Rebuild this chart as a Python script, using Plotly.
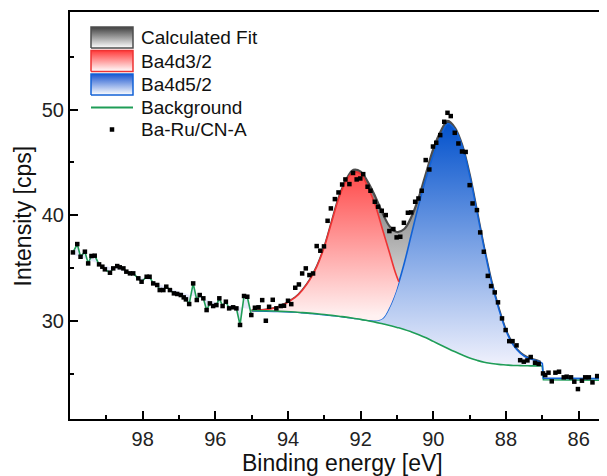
import plotly.graph_objects as go

FONT = "Arial, 'Liberation Sans', sans-serif"

# ---------------- measured data (Ba-Ru/CN-A) ----------------
data_x = [99.92, 99.80, 99.71, 99.59, 99.50, 99.41, 99.32, 99.20, 99.11, 99.04,
          98.90, 98.81, 98.70, 98.63, 98.53, 98.45, 98.35, 98.26, 98.12, 98.03,
          97.89, 97.81, 97.71, 97.60, 97.53, 97.43, 97.35, 97.25, 97.14, 97.05,
          96.95, 96.87, 96.81, 96.72, 96.61, 96.51, 96.43, 96.33, 96.24, 96.15,
          96.06, 95.97, 95.89, 95.80, 95.71, 95.62, 95.51, 95.42, 95.32, 95.21,
          95.12, 95.01, 94.91, 94.81, 94.71, 94.61, 94.52, 94.42, 94.32, 94.20,
          94.11, 94.00, 93.91, 93.80, 93.70, 93.61, 93.51, 93.41, 93.31, 93.21,
          93.11, 93.01, 92.91, 92.82, 92.71, 92.61, 92.51, 92.42, 92.31, 92.21,
          92.11, 92.01, 91.93, 91.81, 91.73, 91.61, 91.52, 91.42, 91.31, 91.21,
          91.10, 91.01, 90.91, 90.81, 90.70, 90.61, 90.50, 90.41, 90.32, 90.21,
          90.11, 90.01, 89.92, 89.81, 89.70, 89.61, 89.52, 89.41, 89.31, 89.21,
          89.11, 89.00, 88.92, 88.80, 88.71, 88.61, 88.50, 88.41, 88.31, 88.22,
          88.11, 88.01, 87.91, 87.82, 87.71, 87.61, 87.51, 87.41, 87.32, 87.20,
          87.10, 86.98, 86.92, 86.83, 86.74, 86.64, 86.54, 86.41, 86.33, 86.21,
          86.12, 86.02, 85.91, 85.82, 85.72, 85.62, 85.49, 85.36, 85.28]
data_y = [36.49, 37.28, 36.08, 36.56, 35.45, 36.15, 36.18, 35.36, 35.14, 34.89,
          34.57, 34.98, 35.20, 35.08, 34.98, 34.67, 34.51, 34.51, 34.04, 33.72,
          34.19, 34.19, 33.56, 33.41, 32.93, 32.93, 33.25, 32.93, 32.62, 32.56,
          32.46, 32.24, 32.05, 31.61, 33.56, 31.99, 32.46, 32.15, 31.04, 31.67,
          31.42, 31.51, 32.15, 31.42, 31.83, 31.20, 31.30, 31.20, 29.63, 32.37,
          32.30, 30.57, 31.26, 31.30, 31.98, 30.03, 31.35, 32.01, 31.20, 31.42,
          31.45, 31.92, 31.60, 33.15, 33.46, 34.50, 34.98, 34.35, 34.50, 37.09,
          36.65, 37.06, 39.48, 40.65, 41.53, 42.16, 42.91, 43.39, 42.95, 44.00,
          43.39, 43.48, 43.89, 42.70, 42.32, 41.28, 40.81, 40.43, 40.02, 38.51,
          38.70, 37.91, 37.97, 39.29, 40.24, 40.27, 41.28, 41.59, 42.32, 45.22,
          44.33, 46.50, 46.86, 47.58, 48.84, 49.69, 49.38, 47.80, 46.79, 46.03,
          45.99, 42.85, 41.12, 40.49, 38.38, 36.55, 34.27, 33.31, 32.71, 31.77,
          30.25, 29.15, 28.10, 28.10, 27.70, 26.30, 26.16, 26.28, 26.60, 26.06,
          25.95, 25.05, 24.89, 25.12, 24.30, 25.12, 25.21, 24.68, 24.74, 24.68,
          24.27, 23.57, 24.36, 24.68, 24.68, 24.20, 24.80, 24.42, 24.99]

# ---------------- fitted curves ----------------
fit_x = [95.0, 94.6, 94.2, 93.8, 93.6, 93.4, 93.2, 93.0, 92.8, 92.6, 92.4, 92.2,
         92.0, 91.8, 91.6, 91.4, 91.2, 91.0, 90.8, 90.6, 90.4, 90.2, 90.0, 89.8,
         89.6, 89.4, 89.2, 89.0, 88.8, 88.6, 88.4, 88.2, 88.0, 87.8, 87.6, 87.4,
         87.2, 87.05]
background_y = [31.00, 30.97, 30.92, 30.85, 30.80, 30.75, 30.69, 30.62, 30.54, 30.45,
                30.37, 30.26, 30.16, 30.03, 29.90, 29.74, 29.58, 29.40, 29.21, 28.97,
                28.71, 28.42, 28.08, 27.74, 27.41, 27.09, 26.79, 26.51, 26.29, 26.10,
                25.99, 25.90, 25.85, 25.80, 25.79, 25.77, 25.76, 25.75]
envelope_y = [31.01, 31.09, 31.43, 32.23, 32.94, 33.89, 35.20, 37.00, 39.35, 41.71,
              43.36, 44.30, 44.13, 43.14, 41.79, 40.22, 38.94, 38.42, 38.70, 39.88,
              41.70, 44.00, 46.28, 47.91, 48.93, 48.25, 46.59, 43.87, 40.44, 36.92,
              33.78, 31.22, 29.15, 27.78, 27.00, 26.56, 26.34, 26.15]
ba4d52_y = [30.97, 30.94, 30.90, 30.85, 30.79, 30.73, 30.67, 30.60, 30.53, 30.46,
            30.37, 30.28, 30.18, 30.10, 30.05, 30.25, 31.36, 33.13, 35.47, 38.25,
            41.01, 43.53, 45.72, 47.45, 48.67, 48.08, 46.47, 43.77, 40.37, 36.87,
            33.72, 31.17, 29.10, 27.73, 26.95, 26.51, 26.29, 26.10]

red_x = [95.0, 94.6, 94.2, 93.8, 93.6, 93.4, 93.2, 93.0, 92.8, 92.6, 92.4, 92.2,
         92.0, 91.8, 91.6, 91.4, 91.2, 91.05, 90.95]
ba4d32_y = [31.01, 31.09, 31.43, 32.23, 32.94, 33.89, 35.20, 37.00, 39.35, 41.64,
            43.26, 44.07, 43.92, 42.65, 40.98, 38.68, 36.38, 34.65, 33.72]
red_base_y = [30.97, 30.94, 30.90, 30.85, 30.79, 30.73, 30.67, 30.60, 30.53, 30.46,
              30.37, 30.28, 30.18, 30.10, 30.05, 30.25, 31.36, 32.60, 33.72]

# tails right of the 87 eV step
bg_tail_x = [87.05, 87.00, 86.97, 85.31, 85.27, 85.20]
bg_tail_y = [25.75, 25.75, 24.45, 24.40, 23.00, 23.00]
blue_tail_x = [87.05, 87.00, 86.97, 85.29]
blue_tail_y = [26.10, 26.00, 24.60, 24.55]

# faint band under the raw data on the high-energy side
band_x = [99.92, 99.0, 98.0, 97.0, 96.0, 95.01]
band_y = [36.30, 35.20, 34.10, 32.80, 31.80, 31.10]

x_ticks = [98, 96, 94, 92, 90, 88, 86]
y_ticks = [30, 40, 50]
x_range = [100.0, 85.22]
y_range = [20.74, 59.22]

GREEN = "#1f9d57"
BLUE = "#1262d6"
RED = "#ee3333"
GRAY = "#4d4d4d"

fig = go.Figure()

left = [i for i, v in enumerate(data_x) if v >= 95.0]
left_x = [data_x[i] for i in left]
left_y = [data_y[i] for i in left]

# band base (invisible) + raw-data green line with faint fill
fig.add_trace(go.Scatter(x=band_x, y=band_y, mode="lines", line=dict(width=0, shape="spline"),
                         hoverinfo="skip", showlegend=False))
fig.add_trace(go.Scatter(x=left_x, y=left_y, mode="lines", fill="tonexty",
                         fillcolor="rgba(205,212,246,0.5)", line=dict(color=GREEN, width=1.6),
                         hoverinfo="skip", showlegend=False))

# Calculated fit (envelope) filled to background
fig.add_trace(go.Scatter(x=fit_x, y=background_y, mode="lines", line=dict(width=0, shape="spline"),
                         hoverinfo="skip", showlegend=False))
fig.add_trace(go.Scatter(x=fit_x, y=envelope_y, mode="lines", name="Calculated Fit", fill="tonexty",
                         fillgradient=dict(type="vertical", start=29.5, stop=49.5,
                                           colorscale=[[0, "#ffffff"], [1, "#3a3a3a"]]),
                         line=dict(color=GRAY, width=2.2, shape="spline"), showlegend=False))

# Ba4d5/2 filled to background
fig.add_trace(go.Scatter(x=fit_x, y=background_y, mode="lines", line=dict(width=0, shape="spline"),
                         hoverinfo="skip", showlegend=False))
fig.add_trace(go.Scatter(x=fit_x, y=ba4d52_y, mode="lines", name="Ba4d5/2", fill="tonexty",
                         fillgradient=dict(type="vertical", start=25.5, stop=49.0,
                                           colorscale=[[0, "#f3f3fd"], [1, "#0050cc"]]),
                         line=dict(color=BLUE, width=1.6, shape="spline"), showlegend=False))

# Ba4d3/2 filled to Ba4d5/2 curve
fig.add_trace(go.Scatter(x=red_x, y=red_base_y, mode="lines", line=dict(width=0, shape="spline"),
                         hoverinfo="skip", showlegend=False))
fig.add_trace(go.Scatter(x=red_x, y=ba4d32_y, mode="lines", name="Ba4d3/2", fill="tonexty",
                         fillgradient=dict(type="vertical", start=30.5, stop=44.5,
                                           colorscale=[[0, "#fff1f1"], [1, "#ff4444"]]),
                         line=dict(color=RED, width=1.6, shape="spline"), showlegend=False))

# Background lines
fig.add_trace(go.Scatter(x=fit_x, y=background_y, mode="lines", name="Background",
                         line=dict(color=GREEN, width=1.6, shape="spline"), showlegend=False))
fig.add_trace(go.Scatter(x=bg_tail_x, y=bg_tail_y, mode="lines",
                         line=dict(color=GREEN, width=1.6), showlegend=False, hoverinfo="skip"))
fig.add_trace(go.Scatter(x=blue_tail_x, y=blue_tail_y, mode="lines",
                         line=dict(color=BLUE, width=1.6), showlegend=False, hoverinfo="skip"))

# data points
fig.add_trace(go.Scatter(x=data_x, y=data_y, mode="markers", name="Ba-Ru/CN-A",
                         marker=dict(symbol="square", size=4.5, color="black"), showlegend=False))

# ---------------- hand-drawn legend on an overlay pixel axis ----------------
legend_rows = ["Calculated Fit", "Ba4d3/2", "Ba4d5/2", "Background", "Ba-Ru/CN-A"]
legend_y = [381.5, 358.0, 334.5, 311.5, 289.5]
box_styles = [
    (GRAY, [[0, "#ffffff"], [1, "#404040"]]),
    (RED, [[0, "#ffffff"], [1, "#ff3a3a"]]),
    (BLUE, [[0, "#ffffff"], [1, "#1a55d0"]]),
]
for (edge, cs), yc in zip(box_styles, legend_y[:3]):
    y0, y1 = yc - 10.5, yc + 10.5
    fig.add_trace(go.Scatter(x=[21, 63, 63, 21, 21], y=[y0, y0, y1, y1, y0], mode="lines",
                             fill="toself", xaxis="x2", yaxis="y2",
                             fillgradient=dict(type="vertical", start=y0, stop=y1, colorscale=cs),
                             line=dict(color=edge, width=1.5), hoverinfo="skip", showlegend=False))
fig.add_trace(go.Scatter(x=[21, 63], y=[legend_y[3], legend_y[3]], mode="lines", xaxis="x2", yaxis="y2",
                         line=dict(color=GREEN, width=1.8), hoverinfo="skip", showlegend=False))
fig.add_trace(go.Scatter(x=[42], y=[legend_y[4]], mode="markers", xaxis="x2", yaxis="y2",
                         marker=dict(symbol="square", size=4.5, color="black"), hoverinfo="skip",
                         showlegend=False))
for label, yc in zip(legend_rows, legend_y):
    fig.add_annotation(x=69, y=yc, xref="x2", yref="y2", text=label, showarrow=False,
                       xanchor="left", yanchor="middle", font=dict(family=FONT, size=19, color="#111"))

# axis titles
fig.add_annotation(text="Binding energy [eV]", xref="paper", yref="paper",
                   x=(342.5 - 70) / 537, y=(419 - 463) / 407, xanchor="center", yanchor="middle",
                   showarrow=False, font=dict(family=FONT, size=23, color="#111"))
fig.add_annotation(text="Intensity [cps]", xref="paper", yref="paper", textangle=-90,
                   x=(22.5 - 70) / 537, y=(419 - 216) / 407, xanchor="center", yanchor="middle",
                   showarrow=False, font=dict(family=FONT, size=23, color="#111"))

axis_common = dict(showline=True, linecolor="black", linewidth=2, ticks="inside", ticklen=8,
                   tickwidth=1.5, tickcolor="black", showgrid=False, zeroline=False,
                   automargin=False, tickfont=dict(family=FONT, size=20, color="#222"))

# the page body keeps an 8 px offset, so the figure is 8 px smaller than the window
fig.update_layout(
    width=599, height=468,
    margin=dict(l=62, r=0, t=4, b=57),
    paper_bgcolor="white", plot_bgcolor="white",
    showlegend=False,
    xaxis=dict(range=x_range, tickmode="array", tickvals=x_ticks, mirror=True,
               minor=dict(dtick=1, ticks="inside", ticklen=4, tickwidth=1.5, tickcolor="black"),
               ticklabelstandoff=1, **axis_common),
    yaxis=dict(range=y_range, tickmode="array", tickvals=y_ticks, mirror=False,
               minor=dict(dtick=5, ticks="inside", ticklen=4, tickwidth=1.5, tickcolor="black"),
               ticklabelstandoff=0, **axis_common),
    xaxis2=dict(overlaying="x", range=[0, 537], visible=False, fixedrange=True),
    yaxis2=dict(overlaying="y", range=[0, 407], visible=False, fixedrange=True),
)

fig.write_html("out.html")
